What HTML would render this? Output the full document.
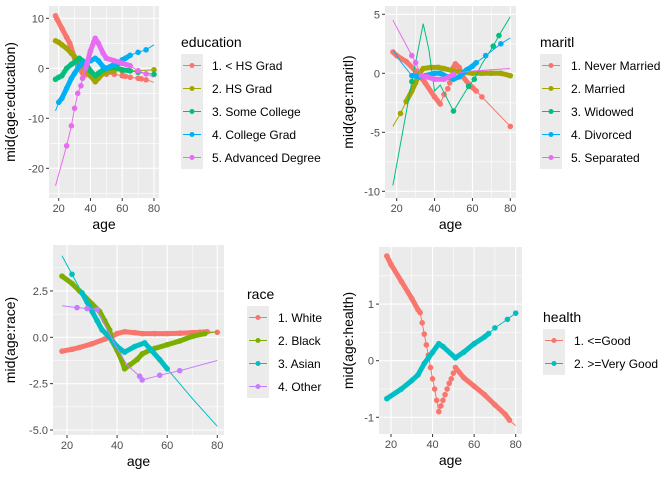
<!DOCTYPE html>
<html><head><meta charset="utf-8"><style>
body{margin:0;background:#fff;}
svg{display:block;font-family:"Liberation Sans",Arial,sans-serif;}
</style></head><body>
<svg id="c" width="672" height="480" viewBox="0 0 672 480" xmlns="http://www.w3.org/2000/svg"></svg>
<script>
// ---------- data ----------
// dots: 0 = no point, 1 = point, 2 = point with dense run of points to next vertex
const eduLabels = ["1. < HS Grad","2. HS Grad","3. Some College","4. College Grad","5. Advanced Degree"];
const eduColors = ["#F8766D","#A3A500","#00BF7D","#00B0F6","#E76BF3"];
const eduAges = [
 [18,19,22,25,27,28,30,32,35,37,40,42,45,50,55,60,62,65,70,72,75,80],
 [18,20,22,25,28,30,33,35,38,40,43,45,48,50,55,60,65,70,80],
 [18,20,22,25,28,30,33,35,38,40,43,45,48,50,55,60,65,70,80],
 [18,20,22,25,28,30,33,36,40,43,45,48,50,55,58,60,62,65,70,75,80],
 [18,25,28,30,32,34,35,37,40,42,43,45,48,50,55,60,65,70,75,80]];
const eduVals = [
 [10.5,9.8,8,6.2,5,4,2,0.5,-1,-1.3,-1.5,-1.5,-1.6,-1.2,-1.2,-1.5,-1.6,-1.8,-2.0,-2.1,-2.3,-2.8],
 [5.5,5.2,4.7,4,3,2.3,1.2,0.5,-0.5,-1.5,-2.7,-2,-1,-0.8,-0.5,-0.6,-0.5,-0.5,-0.3],
 [-2.2,-1.8,-1.5,0,0.8,1.2,2,1.5,0.5,-0.5,-1.5,-1,-0.3,0,0.2,-0.3,-0.5,-0.8,-1.2],
 [-8.5,-6.8,-6,-4,-2,-1,0.5,1.2,1.5,2,1.5,0.3,0,0.8,1,1.7,2,2.6,3.2,3.7,4.7],
 [-23.5,-15.5,-11.5,-8,-5,-3.5,-2,0,3.5,5.2,6,5,3,2,1.5,1,0.5,-0.5,-1.1,-1.8]];
const eduDots = [
 [2,2,2,2,2,2,2,2,1,1,1,1,1,1,1,1,1,1,1,1,1,0],
 [2,2,2,2,2,2,2,2,2,2,2,2,2,2,1,1,1,1,1],
 [2,2,2,2,2,2,2,2,2,2,2,2,2,2,2,2,1,1,1],
 [0,2,2,2,2,2,2,2,2,2,2,2,2,2,2,2,2,1,1,1,0],
 [0,1,1,1,1,1,1,2,2,2,2,2,2,2,2,2,1,1,1,0]];

const marLabels = ["1. Never Married","2. Married","3. Widowed","4. Divorced","5. Separated"];
const marColors = ["#F8766D","#A3A500","#00BF7D","#00B0F6","#E76BF3"];
const marAges = [
 [18,20,25,30,35,40,43,45,47,48,50,51,53,55,58,60,62,65,80],
 [18,22,25,28,30,32,34,38,42,45,50,55,60,65,70,75,80],
 [18,28,34,37,40,43,50,58,61,65,71,74,80],
 [18,22,28,32,35,40,43,47,50,53,57,60,62,67,75,80],
 [18,28,30,33,36,40,45,50,55,60,70,80]];
const marVals = [
 [1.8,1.5,1,0.2,-0.8,-2,-2.6,-1.8,-1.3,-0.8,0.5,0.8,0.5,-0.3,-0.9,-1.2,-1.5,-2.0,-4.5],
 [-4.5,-3.4,-2.4,-1.5,-0.8,0,0.4,0.5,0.5,0.4,0.2,0.1,0,0,0,0,-0.2],
 [-9.5,-0.7,4.2,2,-1.5,-1,-3.2,-1.1,-0.5,0.8,2.3,3.2,4.8],
 [2,1,-0.2,-0.3,-0.2,0,0,-0.3,-0.5,-0.3,0.3,0.6,0.9,1.5,2.5,3],
 [4.5,1.5,0.9,-0.2,-0.3,-0.5,-0.5,-0.1,0.1,0.2,0.3,0.4]];
const marDots = [
 [2,2,2,2,2,2,1,1,1,1,2,2,2,2,2,2,1,1,1],
 [0,1,2,2,2,2,2,2,2,2,2,2,2,2,2,2,1],
 [0,1,0,0,0,0,1,1,1,0,1,1,0],
 [0,0,2,2,2,2,2,2,2,2,2,2,1,1,1,0],
 [0,1,1,2,2,2,2,1,0,0,0,0]];

const raceLabels = ["1. White","2. Black","3. Asian","4. Other"];
const raceColors = ["#F8766D","#7CAE00","#00BFC4","#C77CFF"];
const raceAges = [
 [18,22,25,30,35,38,40,43,47,50,55,60,65,70,73,76,80],
 [18,22,25,30,33,35,37,38,40,42,43,45,48,50,53,55,60,65,70,75,80],
 [18,22,26,28,30,32,34,37,40,43,47,51,53,57,60,70,80],
 [18,24,28,32,40,44,49,50,57,65,80]];
const raceVals = [
 [-0.75,-0.65,-0.55,-0.35,-0.1,0.05,0.2,0.3,0.25,0.2,0.2,0.2,0.22,0.25,0.27,0.3,0.27],
 [3.3,2.9,2.5,1.8,1.4,0.9,0.4,-0.2,-0.7,-1.3,-1.7,-1.5,-1.2,-0.9,-0.7,-0.6,-0.4,-0.2,0.05,0.2,0.3],
 [4.4,3.4,2.4,1.9,1.4,0.9,0.4,0,-0.5,-0.8,-0.5,-0.3,-0.6,-1.2,-1.7,-3.3,-4.8],
 [1.7,1.6,1.55,1.5,-0.6,-1.5,-2.1,-2.3,-2.05,-1.8,-1.25]];
const raceDots = [
 [2,2,2,2,2,2,2,2,2,2,2,2,2,2,2,1,1],
 [2,2,2,2,2,2,2,2,2,2,2,2,2,2,2,2,2,2,2,1,0],
 [0,1,2,2,2,2,2,2,2,2,2,2,2,2,1,0,0],
 [0,1,1,1,0,0,1,1,1,1,0]];

const hLabels = ["1. <=Good","2. >=Very Good"];
const hColors = ["#F8766D","#00BFC4"];
const hAges = [
 [18,20,25,30,33,34,35,36,37,38,39,40,41,42,43,44,45,46,47,48,49,50,51,55,60,65,70,75,77,80],
 [18,25,30,33,36,38,40,43,45,51,55,60,65,67,70,76,80]];
const hVals = [
 [1.85,1.7,1.4,1.1,0.9,0.85,0.67,0.47,0.28,0.1,-0.12,-0.32,-0.5,-0.7,-0.9,-0.8,-0.7,-0.6,-0.5,-0.4,-0.32,-0.22,-0.12,-0.3,-0.45,-0.6,-0.78,-0.95,-1.05,-1.15],
 [-0.67,-0.5,-0.35,-0.25,-0.05,0.05,0.15,0.3,0.25,0.05,0.15,0.3,0.42,0.48,0.58,0.73,0.84]];
const hDots = [
 [2,2,2,2,2,1,1,1,1,1,1,1,1,1,1,1,1,1,1,1,1,1,2,2,2,2,2,2,1,0],
 [2,2,2,2,2,2,2,2,2,2,2,2,2,1,1,1,1]];

// ---------- drawing ----------
const NS="http://www.w3.org/2000/svg";
const svg=document.getElementById('c');
function el(tag,attrs,parent){const e=document.createElementNS(NS,tag);for(const k in attrs)e.setAttribute(k,attrs[k]);(parent||svg).appendChild(e);return e;}

function panel(cfg){
  const g=el('g',{});
  
  
  const xs=a=>cfg.x20+(a-20)*(cfg.x80-cfg.x20)/60;
  const ys=v=>cfg.yA+(v-cfg.vA)*(cfg.yB-cfg.yA)/(cfg.vB-cfg.vA);
  const bg=el('rect',{x:cfg.L,y:cfg.T,width:cfg.R-cfg.L,height:cfg.B-cfg.T,fill:'#EBEBEB'},g);
  
  
  for(const a of [10,30,50,70,90]){const x=xs(a);if(x>cfg.L&&x<cfg.R)el('line',{x1:x,x2:x,y1:cfg.T,y2:cfg.B,stroke:'#fff','stroke-width':0.55},g);}
  const st=cfg.yticks[1]-cfg.yticks[0];
  for(let i=-1;i<cfg.yticks.length;i++){const v=cfg.yticks[0]+st*(i+0.5);const y=ys(v);if(y>cfg.T&&y<cfg.B)el('line',{x1:cfg.L,x2:cfg.R,y1:y,y2:y,stroke:'#fff','stroke-width':0.55},g);}
  for(const a of [20,40,60,80]){const x=xs(a);
    el('line',{x1:x,x2:x,y1:cfg.T,y2:cfg.B,stroke:'#fff','stroke-width':1.1},g);
    el('line',{x1:x,x2:x,y1:cfg.B,y2:cfg.B+3,stroke:'#333','stroke-width':1},g);
    const t=el('text',{x:x,y:cfg.B+14,'font-size':11,fill:'#4D4D4D','text-anchor':'middle'},g);t.textContent=a;
    
    }
  cfg.yticks.forEach((v,i)=>{const y=ys(v);
    el('line',{x1:cfg.L,x2:cfg.R,y1:y,y2:y,stroke:'#fff','stroke-width':1.1},g);
    el('line',{x1:cfg.L-3,x2:cfg.L,y1:y,y2:y,stroke:'#333','stroke-width':1},g);
    const t=el('text',{x:cfg.L-5,y:y+4,'font-size':11,fill:'#4D4D4D','text-anchor':'end'},g);t.textContent=cfg.ylabels[i];
    
    });
  cfg.ages.forEach((ag,s)=>{
    const col=cfg.colors[s];const vs=cfg.vals[s];const ds=cfg.dots[s];
    const sg=el('g',{},g);
    
    
    el('polyline',{points:ag.map((a,i)=>xs(a)+','+ys(vs[i])).join(' '),fill:'none',stroke:col,'stroke-width':1},sg);
    for(let i=0;i<ag.length-1;i++){
      if(ds[i]===2&&ds[i+1]>0)el('line',{x1:xs(ag[i]),y1:ys(vs[i]),x2:xs(ag[i+1]),y2:ys(vs[i+1]),stroke:col,'stroke-width':5,'stroke-linecap':'round'},sg);
    }
    ag.forEach((a,i)=>{if(ds[i]){const c=el('circle',{cx:xs(a),cy:ys(vs[i]),r:2.8,fill:col},sg);
      
      }});
  });
  const xt=el('text',{x:(cfg.L+cfg.R)/2,y:cfg.B+31,'font-size':14,fill:'#000','text-anchor':'middle'},g);xt.textContent='age';
  
  
  const cy=(cfg.T+cfg.B)/2;
  const yt=el('text',{x:cfg.ytx,y:cy,'font-size':14,fill:'#000','text-anchor':'middle',transform:`rotate(-90 ${cfg.ytx} ${cy})`},g);yt.textContent=cfg.ytitle;
  
  
  const lg=el('g',{},g);
  
  
  const tt=el('text',{x:cfg.lx,y:cfg.ly,'font-size':14,fill:'#000'},lg);tt.textContent=cfg.name;
  
  
  cfg.labels.forEach((lab,i)=>{
    const ky=cfg.ly+7+i*23;
    const eg=el('g',{},lg);
    
    
    el('rect',{x:cfg.lx,y:ky,width:22,height:23,fill:'#EBEBEB'},eg);
    el('line',{x1:cfg.lx+2,x2:cfg.lx+20,y1:ky+11.5,y2:ky+11.5,stroke:cfg.colors[i],'stroke-width':1},eg);
    el('circle',{cx:cfg.lx+11,cy:ky+11.5,r:2.5,fill:cfg.colors[i]},eg);
    const t=el('text',{x:cfg.lx+31,y:ky+16,'font-size':12,fill:'#000'},eg);t.textContent=lab;
  });
}

panel({name:'education',L:49,T:6,R:159,B:198,x20:58.7,x80:154,vA:0,yA:68.3,vB:-20,yB:168.3,
 yticks:[-20,-10,0,10],ylabels:['-20','-10','0','10'],ytx:15,ytitle:'mid(age:education)',
 lx:181,ly:47,labels:eduLabels,colors:eduColors,ages:eduAges,vals:eduVals,dots:eduDots});
panel({name:'maritl',L:385,T:6,R:516,B:198,x20:396.7,x80:510.3,vA:0,yA:73.3,vB:-10,yB:191.3,
 yticks:[-10,-5,0,5],ylabels:['-10','-5','0','5'],ytx:353,ytitle:'mid(age:maritl)',
 lx:540,ly:47,labels:marLabels,colors:marColors,ages:marAges,vals:marVals,dots:marDots});
panel({name:'race',L:53,T:245,R:224,B:435,x20:67,x80:217.3,vA:0,yA:337.3,vB:-5,yB:430,
 yticks:[-5,-2.5,0,2.5],ylabels:['-5.0','-2.5','0.0','2.5'],ytx:15,ytitle:'mid(age:race)',
 lx:247,ly:299,labels:raceLabels,colors:raceColors,ages:raceAges,vals:raceVals,dots:raceDots});
panel({name:'health',L:379,T:247,R:522,B:434,x20:391,x80:515.7,vA:0,yA:360.7,vB:-1,yB:417.3,
 yticks:[-1,0,1],ylabels:['-1','0','1'],ytx:353,ytitle:'mid(age:health)',
 lx:543,ly:322,labels:hLabels,colors:hColors,ages:hAges,vals:hVals,dots:hDots});
</script>
</body></html>
